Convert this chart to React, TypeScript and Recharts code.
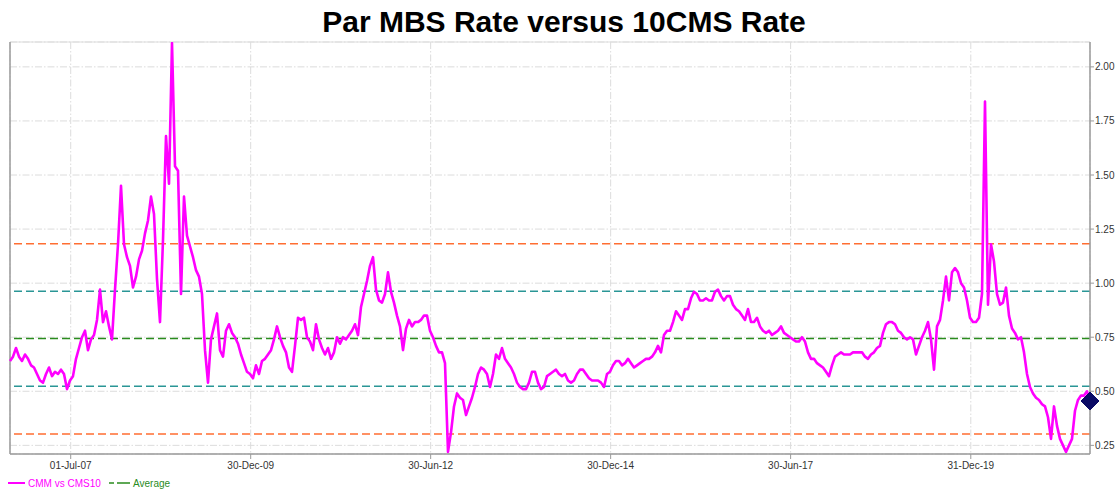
import React from 'react';
import { LineChart, Line, XAxis, YAxis, CartesianGrid, ReferenceLine, ReferenceDot } from 'recharts';

// CMM vs CMS10 spread, semi-monthly readings (Aug-2006 .. Aug-2021)
const spread2006to2009 = [
  0.64, 0.66, 0.70, 0.66, 0.64, 0.67, 0.65, 0.62, 0.61, 0.58,
  0.55, 0.54, 0.58, 0.61, 0.57, 0.59, 0.58, 0.60, 0.58, 0.51,
  0.55, 0.57, 0.65, 0.70, 0.75, 0.78, 0.69, 0.74, 0.76, 0.83,
  0.97, 0.82, 0.87, 0.80, 0.74, 0.97, 1.18, 1.45, 1.18, 1.12,
  1.08, 0.98, 1.03, 1.11, 1.15, 1.23, 1.29, 1.40, 1.32, 1.02,
  0.82, 1.20, 1.68, 1.46, 2.11, 1.54, 1.52, 0.95, 1.40, 1.22,
];
const spread2009to2011 = [
  1.17, 1.12, 1.06, 1.03, 0.95, 0.69, 0.54, 0.74, 0.80, 0.86,
  0.69, 0.66, 0.78, 0.81, 0.77, 0.75, 0.72, 0.67, 0.63, 0.59,
  0.58, 0.56, 0.62, 0.58, 0.64, 0.65, 0.67, 0.69, 0.74, 0.80,
  0.75, 0.71, 0.68, 0.61, 0.59, 0.71, 0.84, 0.83, 0.84, 0.75,
  0.73, 0.69, 0.81, 0.74, 0.70, 0.67, 0.70, 0.65, 0.68, 0.75,
  0.72, 0.75, 0.74, 0.76, 0.78, 0.81, 0.76, 0.89, 0.95, 1.01,
];
const spread2011to2014 = [
  1.08, 1.12, 0.97, 0.92, 0.91, 0.95, 1.05, 0.96, 0.91, 0.85,
  0.80, 0.69, 0.79, 0.83, 0.80, 0.82, 0.82, 0.83, 0.85, 0.85,
  0.78, 0.75, 0.71, 0.68, 0.68, 0.63, 0.22, 0.31, 0.43, 0.49,
  0.47, 0.46, 0.39, 0.43, 0.47, 0.52, 0.58, 0.61, 0.60, 0.58,
  0.52, 0.58, 0.67, 0.65, 0.70, 0.65, 0.63, 0.61, 0.58, 0.54,
  0.52, 0.51, 0.51, 0.54, 0.59, 0.59, 0.54, 0.51, 0.52, 0.57,
];
const spread2014to2016 = [
  0.58, 0.59, 0.60, 0.58, 0.57, 0.58, 0.55, 0.54, 0.55, 0.58,
  0.60, 0.60, 0.58, 0.56, 0.55, 0.55, 0.55, 0.54, 0.52, 0.58,
  0.59, 0.62, 0.64, 0.64, 0.62, 0.63, 0.65, 0.63, 0.61, 0.62,
  0.63, 0.64, 0.65, 0.65, 0.66, 0.68, 0.71, 0.68, 0.76, 0.78,
  0.78, 0.82, 0.87, 0.85, 0.83, 0.88, 0.88, 0.93, 0.96, 0.95,
  0.92, 0.92, 0.93, 0.92, 0.92, 0.96, 0.97, 0.94, 0.92, 0.94,
];
const spread2016to2019 = [
  0.94, 0.90, 0.88, 0.87, 0.85, 0.83, 0.88, 0.82, 0.82, 0.84,
  0.80, 0.78, 0.77, 0.78, 0.76, 0.77, 0.78, 0.80, 0.77, 0.76,
  0.75, 0.74, 0.73, 0.73, 0.75, 0.73, 0.68, 0.65, 0.65, 0.63,
  0.62, 0.61, 0.59, 0.57, 0.62, 0.66, 0.67, 0.68, 0.67, 0.67,
  0.67, 0.68, 0.68, 0.68, 0.68, 0.66, 0.65, 0.67, 0.68, 0.70,
  0.71, 0.77, 0.81, 0.82, 0.82, 0.81, 0.78, 0.77, 0.75, 0.74,
];
const spread2019to2021 = [
  0.75, 0.74, 0.67, 0.71, 0.75, 0.78, 0.82, 0.74, 0.60, 0.80,
  0.83, 0.92, 1.03, 0.92, 1.05, 1.07, 1.05, 1.00, 0.98, 0.92,
  0.84, 0.82, 0.82, 0.84, 0.95, 1.84, 0.90, 1.18, 1.10, 0.95,
  0.90, 0.91, 0.98, 0.85, 0.79, 0.77, 0.74, 0.75, 0.68, 0.58,
  0.52, 0.49, 0.47, 0.46, 0.44, 0.43, 0.38, 0.28, 0.43, 0.34,
  0.28, 0.25, 0.22, 0.25, 0.28, 0.41, 0.46, 0.48, 0.48, 0.50,
  0.455,
];

const spreadValues = [
  ...spread2006to2009,
  ...spread2009to2011,
  ...spread2011to2014,
  ...spread2014to2016,
  ...spread2016to2019,
  ...spread2019to2021,
];

const DAY = 86400000;
const X_START = Date.UTC(2006, 7, 27);
const STEP = (365.25 / 24) * DAY;
const X_END = X_START + (spreadValues.length - 1) * STEP;

const xTickDates = [
  Date.UTC(2007, 6, 1),
  Date.UTC(2009, 11, 30),
  Date.UTC(2012, 5, 30),
  Date.UTC(2014, 11, 30),
  Date.UTC(2017, 5, 30),
  Date.UTC(2019, 11, 31),
];
const xTickLabels = ['01-Jul-07', '30-Dec-09', '30-Jun-12', '30-Dec-14', '30-Jun-17', '31-Dec-19'];

const yTicks = [0.25, 0.5, 0.75, 1.0, 1.25, 1.5, 1.75, 2.0];

// average and +/- 1 and 2 standard deviation bands
const bandLevels = [1.182, 0.963, 0.744, 0.523, 0.303];
const bandColors = ['#FF6E32', '#2A9696', '#2A8C1E', '#2A9696', '#FF6E32'];

const data = spreadValues.map((v, i) => ({ t: X_START + i * STEP, spread: v }));
const last = data[data.length - 1];

const FONT = '"Liberation Sans", Arial, Helvetica, sans-serif';

const Diamond = (props: any) => {
  const { cx, cy } = props;
  if (cx == null || cy == null) return <g />;
  const r = 9;
  return (
    <path
      d={`M${cx},${cy - r} L${cx + r},${cy} L${cx},${cy + r} L${cx - r},${cy} Z`}
      fill="#0B0B66"
      stroke="#0B0B66"
    />
  );
};

export default function App() {
  return (
    <div style={{ position: 'absolute', left: 0, top: 0, width: 1117, height: 489, background: '#fff', fontFamily: FONT }}>
      <LineChart
        width={1117}
        height={489}
        data={data}
        margin={{ top: 42, right: 0, bottom: 15, left: 10 }}
      >
        <CartesianGrid stroke="#dcdcdc" strokeDasharray="7 2 1.5 2" />
        <XAxis
          dataKey="t"
          type="number"
          domain={[X_START, X_END]}
          ticks={xTickDates}
          tickFormatter={(v: number) => {
            const k = xTickDates.indexOf(v);
            return k >= 0 ? xTickLabels[k] : '';
          }}
          height={20}
          tickSize={5}
          tickMargin={3}
          interval={0}
          axisLine={{ stroke: '#9a9a9a', strokeWidth: 1.5 }}
          tickLine={{ stroke: '#9a9a9a' }}
          tick={{ fontSize: 10, fill: '#333', fontFamily: FONT }}
        />
        <YAxis
          orientation="right"
          type="number"
          domain={[0.21, 2.115]}
          allowDataOverflow
          ticks={yTicks}
          tickFormatter={(v: number) => v.toFixed(2)}
          width={27}
          tickSize={4}
          tickMargin={1}
          interval={0}
          axisLine={{ stroke: '#9a9a9a', strokeWidth: 1.5 }}
          tickLine={{ stroke: '#9a9a9a' }}
          tick={{ fontSize: 10, fill: '#333', fontFamily: FONT }}
        />
        <ReferenceLine y={2.115} stroke="#dddddd" strokeWidth={1} />
        <ReferenceLine x={X_START} stroke="#9a9a9a" strokeWidth={1.5} />
        {bandLevels.map((lvl, k) => (
          <ReferenceLine
            key={k}
            y={lvl}
            stroke={bandColors[k]}
            strokeWidth={1.5}
            strokeDasharray="8 4"
          />
        ))}
        <Line
          type="linear"
          dataKey="spread"
          stroke="#FF00FF"
          strokeWidth={2.6}
          strokeLinejoin="round"
          dot={false}
          activeDot={false}
          isAnimationActive={false}
        />
        <ReferenceDot x={last.t} y={last.spread} r={9} ifOverflow="visible" shape={Diamond} />
      </LineChart>
      <svg
        width={1117}
        height={489}
        style={{ position: 'absolute', left: 0, top: 0, pointerEvents: 'none' }}
      >
        <text x={564} y={32} textAnchor="middle" fontSize={30} fontWeight="bold" fill="#000" fontFamily={FONT}>
          Par MBS Rate versus 10CMS Rate
        </text>
        <line x1={8} y1={483} x2={25} y2={483} stroke="#FF00FF" strokeWidth={2} />
        <text x={28} y={486.5} fontSize={10} fill="#FF00FF" fontFamily={FONT}>CMM vs CMS10</text>
        <line x1={109} y1={483} x2={130} y2={483} stroke="#2A8C1E" strokeWidth={1.5} strokeDasharray="5 3 13" />
        <text x={133} y={486.5} fontSize={10} fill="#2A8C1E" fontFamily={FONT}>Average</text>
      </svg>
    </div>
  );
}
